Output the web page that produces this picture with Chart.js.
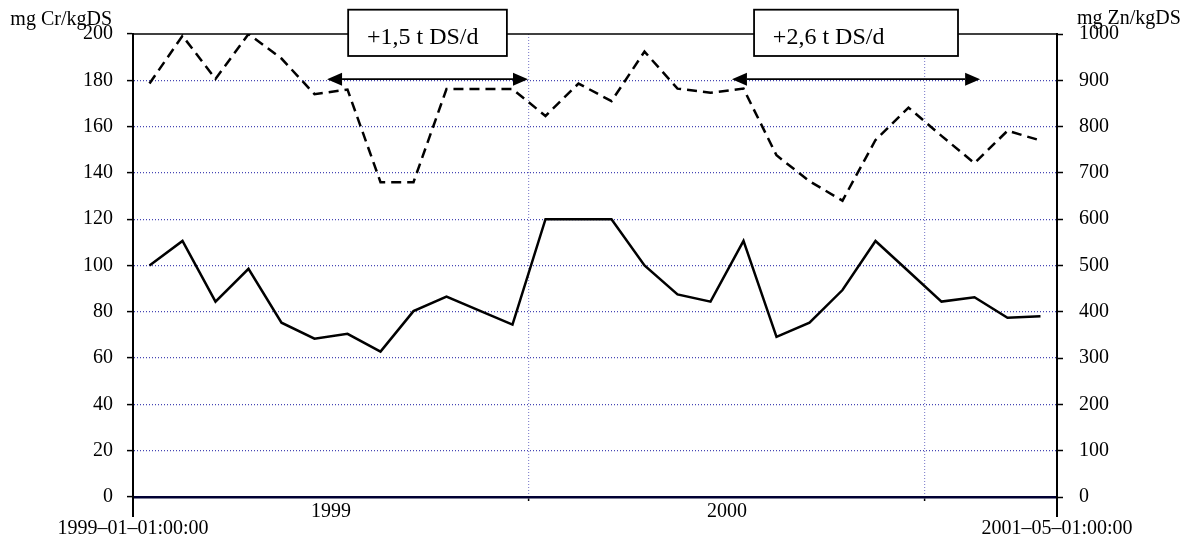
<!DOCTYPE html>
<html>
<head>
<meta charset="utf-8">
<script src="https://cdn.jsdelivr.net/npm/chart.js@4/dist/chart.umd.min.js"></script>
<style>
html,body{margin:0;padding:0;background:#fff;}
#wrap{width:1185px;height:539px;position:relative;}
</style>
</head>
<body>
<div id="wrap"><canvas id="c"></canvas></div>
<script>
// Monthly samples, Jan 1999 - Apr 2001
const months = ['1999-01','1999-02','1999-03','1999-04','1999-05','1999-06','1999-07','1999-08','1999-09','1999-10','1999-11','1999-12',
  '2000-01','2000-02','2000-03','2000-04','2000-05','2000-06','2000-07','2000-08','2000-09','2000-10','2000-11','2000-12',
  '2001-01','2001-02','2001-03','2001-04'];
// mg Cr/kgDS (left axis, solid)
const crValues = [100, 110.6, 84.4, 98.6, 75.3, 68.4, 70.5, 62.8, 80.3, 86.6, 80.5, 74.5,
  120, 120, 120, 100, 87.5, 84.4, 110.6, 69.2, 75.3, 89.4, 110.6, 97.5, 84.4, 86.3, 77.4, 78.1];
// mg Zn/kgDS (right axis, dashed)
const znValues = [893, 996, 903, 1000, 947, 870, 880, 680, 680, 881, 881, 881,
  823, 893, 855, 962, 882, 873, 882, 738, 682, 640, 771, 841, 780, 721, 791, 770];
// x-axis labels
const yearLabels = [{text:'1999', from:0, to:12}, {text:'2000', from:12, to:24}];
const endLabels = [{text:'1999–01–01:00:00', at:0}, {text:'2001–05–01:00:00', at:28}];
const xTickValues = [0, 12, 24, 28];
// Annotations (x in months since 1999-01, y in Cr units)
const boxes = [
  {text:'+1,5 t DS/d', x0:6.52, x1:11.33, textX:7.09},
  {text:'+2,6 t DS/d', x0:18.82, x1:25.0, textX:19.39}
];
const arrows = [{x0:5.88, x1:11.97, y:180.5}, {x0:18.15, x1:25.67, y:180.5}];

const FONT = '"Liberation Serif","Times New Roman",serif';
const GRID = '#4646b4';

const crData = crValues.map((v,i)=>({x:i+0.5, y:v}));
const znData = znValues.map((v,i)=>({x:i+0.5, y:v}));

const overlay = {
  id:'overlay',
  afterDraw(chart){
    const ctx = chart.ctx, a = chart.chartArea;
    const xs = chart.scales.x, ys = chart.scales.y;
    ctx.save();
    // top border
    ctx.strokeStyle = '#000'; ctx.lineWidth = 1.5;
    ctx.beginPath(); ctx.moveTo(a.left, a.top); ctx.lineTo(a.right, a.top); ctx.stroke();
    // axis extensions below the bottom axis
    ctx.lineWidth = 2;
    ctx.beginPath();
    ctx.moveTo(a.left, a.bottom); ctx.lineTo(a.left, a.bottom + 20);
    ctx.moveTo(a.right, a.bottom); ctx.lineTo(a.right, a.bottom + 20);
    ctx.stroke();
    // boxes
    ctx.font = '24px ' + FONT;
    ctx.textBaseline = 'middle';
    ctx.textAlign = 'left';
    boxes.forEach(b=>{
      const x0 = xs.getPixelForValue(b.x0), x1 = xs.getPixelForValue(b.x1);
      const y0 = ys.getPixelForValue(210.5), y1 = ys.getPixelForValue(190.5);
      ctx.fillStyle = '#fff';
      ctx.fillRect(x0, y0, x1-x0, y1-y0);
      ctx.strokeStyle = '#000'; ctx.lineWidth = 1.8;
      ctx.strokeRect(x0, y0, x1-x0, y1-y0);
      ctx.fillStyle = '#000';
      ctx.fillText(b.text, xs.getPixelForValue(b.textX), ys.getPixelForValue(198.3));
    });
    // arrows
    arrows.forEach(r=>{
      const x0 = xs.getPixelForValue(r.x0), x1 = xs.getPixelForValue(r.x1), y = ys.getPixelForValue(r.y);
      const L = 15, H = 6.5;
      ctx.strokeStyle = '#000'; ctx.lineWidth = 1.6;
      ctx.beginPath(); ctx.moveTo(x0 + L, y); ctx.lineTo(x1 - L, y); ctx.stroke();
      ctx.fillStyle = '#000';
      ctx.beginPath(); ctx.moveTo(x0, y); ctx.lineTo(x0 + L, y - H); ctx.lineTo(x0 + L, y + H); ctx.closePath(); ctx.fill();
      ctx.beginPath(); ctx.moveTo(x1, y); ctx.lineTo(x1 - L, y - H); ctx.lineTo(x1 - L, y + H); ctx.closePath(); ctx.fill();
    });
    // axis titles
    ctx.fillStyle = '#000';
    ctx.font = '20px ' + FONT;
    ctx.textBaseline = 'alphabetic';
    ctx.textAlign = 'right';
    ctx.fillText('mg Cr/kgDS', a.left - 21, 25);
    ctx.textAlign = 'left';
    ctx.fillText('mg Zn/kgDS', a.right + 20, 24);
    // x labels
    ctx.font = '20px ' + FONT;
    ctx.textAlign = 'center';
    ctx.textBaseline = 'middle';
    yearLabels.forEach(l=>{
      const x = (xs.getPixelForValue(l.from) + xs.getPixelForValue(l.to))/2;
      ctx.fillText(l.text, x, a.bottom + 15);
    });
    endLabels.forEach(l=>{
      ctx.fillText(l.text, xs.getPixelForValue(l.at), a.bottom + 32);
    });
    ctx.restore();
  }
};

new Chart(document.getElementById('c'), {
  type:'line',
  data:{
    datasets:[
      {label:'Zn', data:znData, yAxisID:'y2', borderColor:'#000', borderWidth:2.5, borderDash:[10,6],
       pointRadius:0, tension:0, fill:false},
      {label:'Cr', data:crData, yAxisID:'y', borderColor:'#000', borderWidth:2.5,
       pointRadius:0, tension:0, fill:false}
    ]
  },
  options:{
    responsive:true, maintainAspectRatio:false, animation:false,
    layout:{padding:{top:34, left:0, right:0, bottom:0}},
    plugins:{legend:{display:false}, tooltip:{enabled:false}},
    scales:{
      x:{
        type:'linear', min:0, max:28,
        afterBuildTicks(s){ s.ticks = xTickValues.map(v=>({value:v})); },
        afterFit(s){ s.height = 42; },
        ticks:{display:false},
        grid:{
          color:(c)=> (c.tick && (c.tick.value===12 || c.tick.value===24)) ? '#8a8ad0' : 'rgba(0,0,0,0)',
          tickColor:(c)=> (c.tick && (c.tick.value===12 || c.tick.value===24)) ? '#000' : 'rgba(0,0,0,0)',
          tickLength:4, lineWidth:1.2, tickWidth:1.5
        },
        border:{color:'#000033', width:2.5, dash:[1,2]}
      },
      y:{
        position:'left', min:0, max:200,
        afterFit(s){ s.width = 133; },
        ticks:{stepSize:20, color:'#000', font:{family:FONT, size:20}, padding:14},
        grid:{
          color:(c)=> (c.tick && (c.tick.value===0 || c.tick.value===200)) ? 'rgba(0,0,0,0)' : GRID,
          tickColor:'#000', tickLength:6, lineWidth:1.2, tickWidth:1.5
        },
        border:{color:'#000', width:2, dash:[1,2]}
      },
      y2:{
        position:'right', min:0, max:1000,
        afterFit(s){ s.width = 128; },
        ticks:{stepSize:100, color:'#000', font:{family:FONT, size:20}, padding:16,
               callback:(v)=>String(v)},
        grid:{drawOnChartArea:false, tickColor:'#000', tickLength:6, tickWidth:1.5},
        border:{color:'#000', width:2}
      }
    }
  },
  plugins:[overlay]
});
</script>
</body>
</html>
